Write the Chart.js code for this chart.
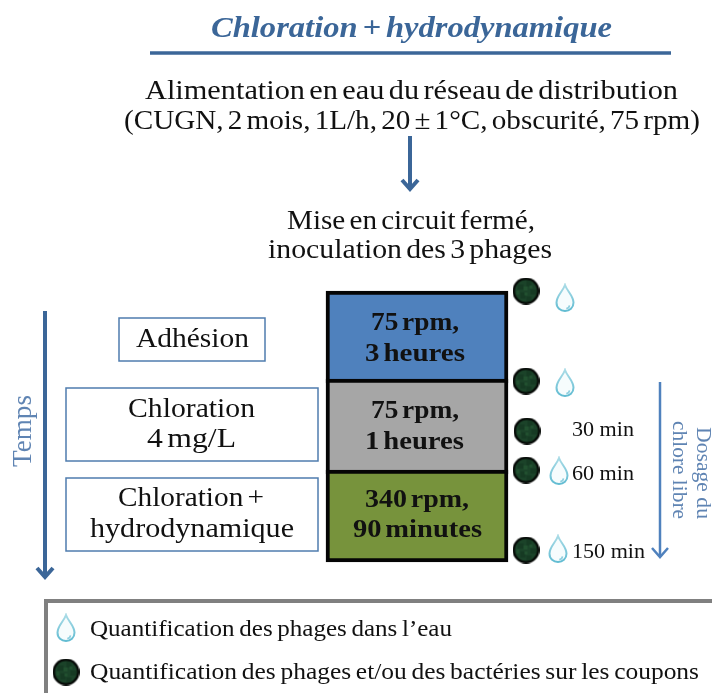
<!DOCTYPE html>
<html lang="fr">
<head>
<meta charset="utf-8">
<style>html,body{margin:0;padding:0;background:#fff}canvas{display:block}</style>
<script src="https://cdn.jsdelivr.net/npm/chart.js@4"></script>
</head>
<body>
<canvas id="c" width="712" height="693"></canvas>
<script>
// ---- Data ----
const blockNames = ['75 rpm, 3 heures', '75 rpm, 1 heures', '340 rpm, 90 minutes'];
const blockTop = [291, 379, 470];
const blockBottom = [383, 474, 562];
const blockColors = ['#4f81bd', '#a6a6a6', '#77933c'];
const blockCentre = 417;
const couponX = [526, 526, 527, 526, 526, 66];
const couponY = [291, 381, 431, 470, 550, 672];
const dropX = [565, 565, 559, 558, 66];
const dropY = [298, 383, 471, 549, 628];

const SERIF = '"Liberation Serif"';
const BLACK = '#111', BLUE = '#3b6698', SOFT = '#5f84b3';
// [text, left, right, baseline, font, colour]
const labels = [
  ['Chloration + hydrodynamique', 211, 612, 37, 'italic bold 30px', BLUE],
  ['Alimentation en eau du réseau de distribution', 145, 678, 99, '28px', BLACK],
  ['(CUGN, 2 mois, 1L/h, 20 ± 1°C, obscurité, 75 rpm)', 124, 700, 129, '28px', BLACK],
  ['Mise en circuit fermé,', 287, 535, 229, '28px', BLACK],
  ['inoculation des 3 phages', 268, 552, 258, '28px', BLACK],
  ['Adhésion', 136, 249, 347, '28px', BLACK],
  ['Chloration', 128, 255, 417, '28px', BLACK],
  ['4 mg/L', 147, 236, 447, '28px', BLACK],
  ['Chloration +', 118, 264, 506, '28px', BLACK],
  ['hydrodynamique', 90, 294, 537, '28px', BLACK],
  ['75 rpm,', 371, 459, 330, 'bold 26px', BLACK],
  ['3 heures', 365, 465, 361, 'bold 26px', BLACK],
  ['75 rpm,', 371, 459, 418, 'bold 26px', BLACK],
  ['1 heures', 365, 464, 449, 'bold 26px', BLACK],
  ['340 rpm,', 365, 469, 507, 'bold 26px', BLACK],
  ['90 minutes', 353, 482, 537, 'bold 26px', BLACK],
  ['30 min', 572, 634, 436, '21px', BLACK],
  ['60 min', 572, 634, 480, '21px', BLACK],
  ['150 min', 572, 645, 558, '21px', BLACK],
  ['Quantification des phages dans l’eau', 90, 452, 636, '23px', BLACK],
  ['Quantification des phages et/ou des bactéries sur les coupons', 90, 699, 679, '23px', BLACK]
];
// [text, centreX, centreY, length, font, rotation]
const rotated = [
  ['Temps', 25, 431, 72, '27px', -Math.PI / 2],
  ['Dosage du', 703, 473, 92, '21px', Math.PI / 2],
  ['chlore libre', 679, 470, 98, '21px', Math.PI / 2]
];
// [x1, y1, x2, y2, colour, width]
const arrows = [
  [410, 136, 410, 190, BLUE, 4],
  [45, 311, 45, 578, BLUE, 4],
  [660, 382, 660, 558, '#4f81bd', 2.5]
];
// [x, y, w, h]
const boxes = [[119, 318, 146, 43], [66, 388, 252, 73], [66, 478, 252, 73]];

// ---- Point icons ----
function coupon() {
  const c = document.createElement('canvas'); c.width = c.height = 27;
  const g = c.getContext('2d');
  g.fillStyle = '#060a07'; g.beginPath(); g.arc(13.5, 13.5, 13.5, 0, 7); g.fill();
  g.save(); g.beginPath(); g.arc(13.5, 13.5, 11, 0, 7); g.clip();
  g.fillStyle = '#1b4329'; g.fillRect(0, 0, 27, 27);
  g.fillStyle = '#163a23';
  [[5, 7, 6, 5], [14, 3, 5, 6], [18, 12, 6, 5], [8, 15, 5, 6], [14, 19, 5, 5]].forEach(r => g.fillRect(...r));
  g.fillStyle = '#21502f';
  [[11, 9, 4, 4], [4, 13, 3, 4], [17, 8, 3, 3], [12, 15, 3, 3]].forEach(r => g.fillRect(...r));
  g.restore();
  return c;
}
function drop() {
  const c = document.createElement('canvas'); c.width = 24; c.height = 30;
  const g = c.getContext('2d');
  const p = new Path2D('M12 2 C10 8 3.5 13 3.5 19.5 C3.5 25 7.5 28 12 28 C16.5 28 20.5 25 20.5 19.5 C20.5 13 14 8 12 2 Z');
  g.fillStyle = '#f6fcfd'; g.fill(p);
  const s = g.createLinearGradient(0, 2, 0, 28);
  s.addColorStop(0, '#a9dbe6'); s.addColorStop(1, '#62bcd2');
  g.strokeStyle = s; g.lineWidth = 2; g.stroke(p);
  g.strokeStyle = '#8fcfdf'; g.lineWidth = 1.6;
  g.beginPath(); g.arc(13, 22, 3.5, 0.1, 1.5); g.stroke();
  return c;
}

// ---- Annotations ----
// Draws text at (0,0) of the current transform, stretched to the wanted length.
function stretched(ctx, text, length, font) {
  const size = parseInt(font.match(/(\d+)px/)[1], 10);
  ctx.font = font + ' ' + SERIF;
  ctx.wordSpacing = size >= 26 ? '-3px' : size >= 23 ? '-1.5px' : '0px';
  ctx.letterSpacing = '0px';
  const w = ctx.measureText(text).width;
  ctx.scale(length / w, 1);
  ctx.fillText(text, 0, 0);
}
const annotations = {
  id: 'annotations',
  beforeDatasetsDraw(chart) {
    const ctx = chart.ctx;
    ctx.save();
    ctx.strokeStyle = '#4f7cae'; ctx.lineWidth = 1.5;
    boxes.forEach(b => ctx.strokeRect(b[0], b[1], b[2], b[3]));
    ctx.strokeStyle = '#808080'; ctx.lineWidth = 4;
    ctx.beginPath(); ctx.moveTo(46, 695); ctx.lineTo(46, 601); ctx.lineTo(714, 601); ctx.stroke();
    ctx.strokeStyle = BLUE; ctx.lineWidth = 3.5;
    ctx.beginPath(); ctx.moveTo(150, 53); ctx.lineTo(671, 53); ctx.stroke();
    arrows.forEach(a => {
      ctx.strokeStyle = a[4]; ctx.lineWidth = a[5]; ctx.lineCap = 'butt';
      ctx.beginPath(); ctx.moveTo(a[0], a[1]); ctx.lineTo(a[2], a[3] - 1); ctx.stroke();
      ctx.lineJoin = 'miter';
      ctx.beginPath(); ctx.moveTo(a[2] - 8, a[3] - 10); ctx.lineTo(a[2], a[3] - 1); ctx.lineTo(a[2] + 8, a[3] - 10); ctx.stroke();
    });
    ctx.restore();
  },
  afterDatasetsDraw(chart) {
    const ctx = chart.ctx;
    ctx.save();
    ctx.textAlign = 'left'; ctx.textBaseline = 'alphabetic';
    labels.forEach(l => {
      ctx.save();
      ctx.translate(l[1], l[3]);
      ctx.fillStyle = l[5];
      stretched(ctx, l[0], l[2] - l[1], l[4]);
      ctx.restore();
    });
    rotated.forEach(r => {
      ctx.save();
      ctx.translate(r[1], r[2]); ctx.rotate(r[5]);
      ctx.translate(-r[3] / 2, 6);
      ctx.fillStyle = SOFT;
      stretched(ctx, r[0], r[3], r[4]);
      ctx.restore();
    });
    ctx.restore();
  }
};

// ---- Chart ----
const blockSets = blockNames.map((name, i) => ({
  type: 'bar',
  label: name,
  data: [{ x: blockCentre, y: [blockTop[i], blockBottom[i]] }],
  backgroundColor: blockColors[i],
  borderColor: '#050505',
  borderWidth: 4,
  borderSkipped: false,
  barThickness: 182,
  grouped: false,
  order: 3 - i
}));
const mark = (name, xs, ys, icon) => ({
  type: 'scatter',
  label: name,
  data: xs.map((x, i) => ({ x, y: ys[i] })),
  pointStyle: icon,
  order: 0
});
new Chart(document.getElementById('c'), {
  data: {
    datasets: [
      ...blockSets,
      mark('Coupons', couponX, couponY, coupon()),
      mark('Eau', dropX, dropY, drop())
    ]
  },
  options: {
    responsive: false,
    animation: false,
    layout: { padding: 0, autoPadding: false },
    plugins: { legend: { display: false }, tooltip: { enabled: false } },
    scales: {
      x: { type: 'linear', min: 0, max: 712, offset: false, display: false },
      y: { type: 'linear', min: 0, max: 693, reverse: true, display: false }
    }
  },
  plugins: [annotations]
});
</script>
</body>
</html>
